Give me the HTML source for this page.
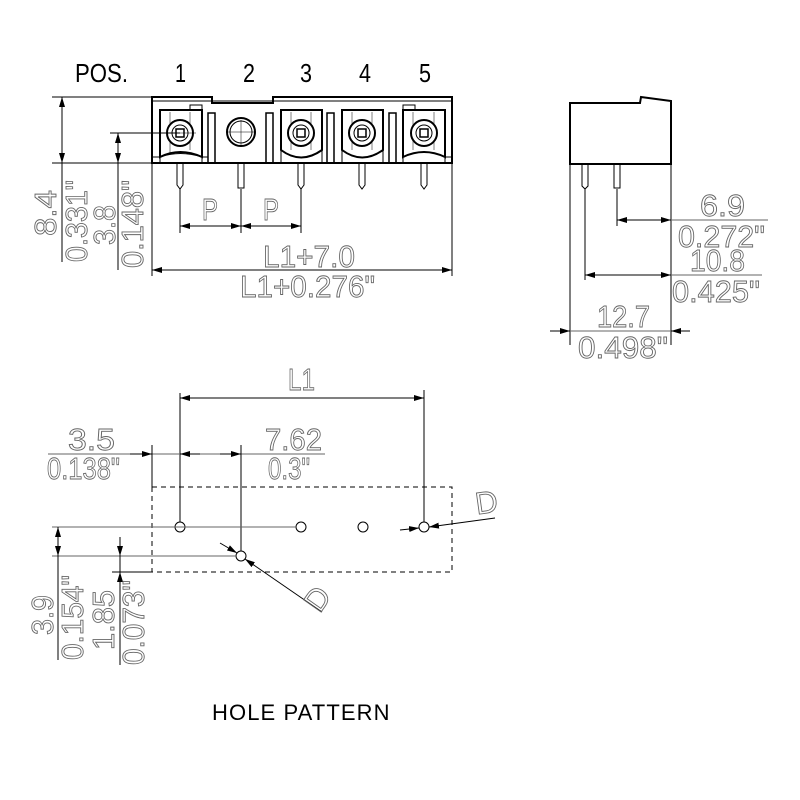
<!DOCTYPE html>
<html><head><meta charset="utf-8"><style>html,body{margin:0;padding:0;background:#fff}svg{display:block}</style></head>
<body>
<svg width="800" height="800" viewBox="0 0 800 800" xmlns="http://www.w3.org/2000/svg">
<defs>
<marker id="a" viewBox="0 0 10 6" refX="10" refY="3" markerWidth="10" markerHeight="6" markerUnits="userSpaceOnUse" orient="auto-start-reverse"><path d="M0,0 L10,3 L0,6z" fill="#000"/></marker>
</defs>
<style>
.d{stroke:#000;stroke-width:1;fill:none}
.g{stroke:#666;stroke-width:1;fill:none}
.b{stroke:#000;stroke-width:2;fill:none}
.t{font-family:"Liberation Sans",sans-serif;font-size:31px;fill:none;stroke:#666;stroke-width:0.9}
.s{font-family:"Liberation Sans",sans-serif;font-size:26px;fill:#000}
.dash{stroke:#000;stroke-width:1;fill:none;stroke-dasharray:5,4}
</style>

<text class="s" x="75" y="82" textLength="53" lengthAdjust="spacingAndGlyphs">POS.</text>
<text class="s" x="175" y="82" textLength="11" lengthAdjust="spacingAndGlyphs">1</text>
<text class="s" x="243" y="82" textLength="12" lengthAdjust="spacingAndGlyphs">2</text>
<text class="s" x="300" y="82" textLength="12" lengthAdjust="spacingAndGlyphs">3</text>
<text class="s" x="359" y="82" textLength="12" lengthAdjust="spacingAndGlyphs">4</text>
<text class="s" x="419" y="82" textLength="12" lengthAdjust="spacingAndGlyphs">5</text>

<path class="b" d="M152,163 L152,97 L212,97 L212,103 L273,103 L273,97 L452,97 L452,163 Z"/>
<line class="d" x1="153" y1="101" x2="451" y2="101"/>
<g class="d">
<path d="M160,110 L202,110 L202,157 Q180,147 160,157 Z" stroke-width="2"/>
<rect x="190" y="105" width="12" height="5"/>
<path d="M281,110 L322,110 L322,150 Q301,165 281,150 Z" stroke-width="2"/>
<path d="M342,110 L383,110 L383,150 Q362,165 342,150 Z" stroke-width="2"/>
<path d="M403,110 L445,110 L445,157 Q424,147 403,157 Z" stroke-width="2"/>
<rect x="403" y="105" width="12" height="5"/>
<rect x="208" y="113" width="7" height="50" stroke-width="1.5"/>
<rect x="266" y="113" width="7" height="50" stroke-width="1.5"/>
<rect x="327" y="113" width="7" height="50" stroke-width="1.5"/>
<rect x="389" y="113" width="7" height="50" stroke-width="1.5"/>
<path d="M152,163 L152,157 L160,157 M202,157 L208,157 M445,157 L452,157"/>
<path d="M160,157 Q180,150 202,157" />
<path d="M281,150 L281,163 M322,150 L322,163 M342,150 L342,163 M383,150 L383,163 M403,157 L403,163 M202,157 L202,163 M160,157 L160,163 M445,157 L445,163"/>
<path d="M170,112 L170,155 M190,112 L190,150 M291,112 L291,150 M311,112 L311,150 M352,112 L352,150 M372,112 L372,150 M413,112 L413,150 M434,112 L434,150" stroke-width="0.5"/>
</g>
<g class="d">
<circle cx="180" cy="133" r="13" stroke-width="2" fill="#fff"/><circle cx="180" cy="133" r="8"/><rect x="176" y="129" width="8" height="8" stroke-width="1.5"/>
<circle cx="301" cy="133" r="13" stroke-width="2" fill="#fff"/><circle cx="301" cy="133" r="8"/><rect x="297" y="129" width="8" height="8" stroke-width="1.5"/>
<circle cx="362" cy="133" r="13" stroke-width="2" fill="#fff"/><circle cx="362" cy="133" r="8"/><rect x="358" y="129" width="8" height="8" stroke-width="1.5"/>
<circle cx="424" cy="133" r="13" stroke-width="2" fill="#fff"/><circle cx="424" cy="133" r="8"/><rect x="420" y="129" width="8" height="8" stroke-width="1.5"/>
<circle cx="241" cy="132" r="14" stroke-width="2"/><circle cx="241" cy="132" r="11"/>
<line x1="164" y1="133" x2="196" y2="133" stroke-width="0.5"/>
<line x1="228" y1="132" x2="254" y2="132" stroke-width="0.5"/>
<line x1="241" y1="120" x2="241" y2="145" stroke-width="0.5"/>
</g>
<g class="d" stroke-width="1.5">
<path d="M177,163 L177,185 L180,189 L183,185 L183,163"/>
<path d="M238,163 L238,188 L244,188 L244,163"/>
<path d="M298,163 L298,185 L301,189 L304,185 L304,163"/>
<path d="M359,163 L359,185 L362,189 L365,185 L365,163"/>
<path d="M421,163 L421,185 L424,189 L427,185 L427,163"/>
</g>
<line class="d" x1="52" y1="97" x2="152" y2="97"/>
<line class="d" x1="52" y1="163" x2="152" y2="163"/>
<line class="d" x1="110" y1="133" x2="180" y2="133"/>
<line class="d" x1="62" y1="97" x2="62" y2="163" marker-start="url(#a)" marker-end="url(#a)"/>
<line class="d" x1="62" y1="163" x2="62" y2="262"/>
<line class="d" x1="118" y1="133" x2="118" y2="163" marker-start="url(#a)" marker-end="url(#a)"/>
<line class="d" x1="118" y1="163" x2="118" y2="270"/>
<text class="t" transform="translate(56,236) rotate(-90)" textLength="46" lengthAdjust="spacingAndGlyphs">8.4</text>
<text class="t" transform="translate(87,262) rotate(-90)" textLength="82" lengthAdjust="spacingAndGlyphs">0.331"</text>
<text class="t" transform="translate(115,245) rotate(-90)" textLength="40" lengthAdjust="spacingAndGlyphs">3.8</text>
<text class="t" transform="translate(143,268) rotate(-90)" textLength="88" lengthAdjust="spacingAndGlyphs">0.148"</text>
<line class="d" x1="180" y1="189" x2="180" y2="233"/>
<line class="d" x1="241" y1="189" x2="241" y2="233"/>
<line class="d" x1="301" y1="189" x2="301" y2="233"/>
<line class="d" x1="180" y1="226" x2="241" y2="226" marker-start="url(#a)" marker-end="url(#a)"/>
<line class="d" x1="241" y1="226" x2="301" y2="226" marker-start="url(#a)" marker-end="url(#a)"/>
<text class="t" x="202" y="220" textLength="16" lengthAdjust="spacingAndGlyphs">P</text>
<text class="t" x="263" y="220" textLength="16" lengthAdjust="spacingAndGlyphs">P</text>
<line class="d" x1="152" y1="163" x2="152" y2="276"/>
<line class="d" x1="452" y1="163" x2="452" y2="276"/>
<line class="d" x1="152" y1="270" x2="452" y2="270" marker-start="url(#a)" marker-end="url(#a)"/>
<text class="t" x="263" y="267" textLength="92" lengthAdjust="spacingAndGlyphs">L1+7.0</text>
<text class="t" x="240" y="297" textLength="135" lengthAdjust="spacingAndGlyphs">L1+0.276"</text>

<path class="b" d="M570,164 L570,103 L640,103 L641,97 L671,101 L671,164 Z"/>
<g class="d" stroke-width="1.5">
<path d="M582,164 L582,186 L585,189 L588,186 L588,164"/>
<path d="M614,164 L614,188 L620,188 L620,164"/>
</g>
<line class="d" x1="617" y1="189" x2="617" y2="226"/>
<line class="d" x1="585" y1="189" x2="585" y2="280"/>
<line class="d" x1="570" y1="164" x2="570" y2="345"/>
<line class="d" x1="671" y1="164" x2="671" y2="345"/>
<line class="d" x1="617" y1="220" x2="671" y2="220" marker-start="url(#a)" marker-end="url(#a)"/>
<line class="g" x1="671" y1="220" x2="768" y2="220"/>
<text class="t" x="700" y="216" textLength="45" lengthAdjust="spacingAndGlyphs">6.9</text>
<text class="t" x="678" y="247" textLength="87" lengthAdjust="spacingAndGlyphs">0.272"</text>
<line class="d" x1="585" y1="275" x2="671" y2="275" marker-start="url(#a)" marker-end="url(#a)"/>
<line class="g" x1="671" y1="275" x2="762" y2="275"/>
<text class="t" x="690" y="271" textLength="55" lengthAdjust="spacingAndGlyphs">10.8</text>
<text class="t" x="672" y="302" textLength="88" lengthAdjust="spacingAndGlyphs">0.425"</text>
<line class="d" x1="550" y1="331" x2="570" y2="331" marker-end="url(#a)"/>
<line class="d" x1="690" y1="331" x2="671" y2="331" marker-end="url(#a)"/>
<line class="g" x1="570" y1="331" x2="671" y2="331"/>
<text class="t" x="597" y="327" textLength="53" lengthAdjust="spacingAndGlyphs">12.7</text>
<text class="t" x="578" y="358" textLength="90" lengthAdjust="spacingAndGlyphs">0.498"</text>

<rect class="dash" x="152" y="487" width="300" height="85"/>
<g class="d" stroke-width="1.5">
<circle cx="180" cy="527" r="5"/><circle cx="301" cy="527" r="5"/><circle cx="363" cy="527" r="5"/><circle cx="424" cy="527" r="5"/><circle cx="241" cy="556" r="5"/>
</g>
<line class="d" x1="180" y1="393" x2="180" y2="522"/>
<line class="d" x1="424" y1="390" x2="424" y2="522"/>
<line class="d" x1="180" y1="398" x2="424" y2="398" marker-start="url(#a)" marker-end="url(#a)"/>
<text class="t" x="288" y="390" textLength="27" lengthAdjust="spacingAndGlyphs">L1</text>
<line class="g" x1="48" y1="454" x2="325" y2="454"/>
<line class="d" x1="152" y1="445" x2="152" y2="487"/>
<line class="d" x1="241" y1="445" x2="241" y2="551"/>
<line class="d" x1="130" y1="454" x2="152" y2="454" marker-end="url(#a)"/>
<line class="d" x1="200" y1="454" x2="180" y2="454" marker-end="url(#a)"/>
<line class="d" x1="220" y1="454" x2="241" y2="454" marker-end="url(#a)"/>
<text class="t" x="68" y="450" textLength="47" lengthAdjust="spacingAndGlyphs">3.5</text>
<text class="t" x="47" y="479" textLength="73" lengthAdjust="spacingAndGlyphs">0.138"</text>
<text class="t" x="265" y="450" textLength="57" lengthAdjust="spacingAndGlyphs">7.62</text>
<text class="t" x="268" y="479" textLength="42" lengthAdjust="spacingAndGlyphs">0.3"</text>
<line class="g" x1="52" y1="527" x2="296" y2="527"/>
<line class="g" x1="52" y1="556" x2="236" y2="556"/>
<line class="d" x1="112" y1="572" x2="152" y2="572"/>
<line class="d" x1="58" y1="527" x2="58" y2="556" marker-start="url(#a)" marker-end="url(#a)"/>
<line class="d" x1="58" y1="556" x2="58" y2="660"/>
<line class="d" x1="120" y1="537" x2="120" y2="556" marker-end="url(#a)"/>
<line class="d" x1="120" y1="590" x2="120" y2="572" marker-end="url(#a)"/>
<line class="d" x1="120" y1="556" x2="120" y2="665"/>
<text class="t" transform="translate(53,635) rotate(-90)" textLength="40" lengthAdjust="spacingAndGlyphs">3.9</text>
<text class="t" transform="translate(83,660) rotate(-90)" textLength="85" lengthAdjust="spacingAndGlyphs">0.154"</text>
<text class="t" transform="translate(114,650) rotate(-90)" textLength="60" lengthAdjust="spacingAndGlyphs">1.85</text>
<text class="t" transform="translate(144,665) rotate(-90)" textLength="85" lengthAdjust="spacingAndGlyphs">0.073"</text>
<line class="d" x1="220" y1="543" x2="237" y2="553" marker-end="url(#a)"/>
<line class="d" x1="322" y1="612" x2="245" y2="559" marker-end="url(#a)"/>
<text class="t" transform="translate(326,605) rotate(-55)" text-anchor="middle">D</text>
<line class="d" x1="400" y1="530" x2="419" y2="528" marker-end="url(#a)"/>
<line class="d" x1="495" y1="518" x2="429" y2="527" marker-end="url(#a)"/>
<text class="t" transform="translate(488,513) rotate(-8)" text-anchor="middle">D</text>

<text x="212" y="720" font-family="Liberation Sans, sans-serif" font-size="22" letter-spacing="1.1" fill="#000">HOLE PATTERN</text>
</svg>
</body></html>
